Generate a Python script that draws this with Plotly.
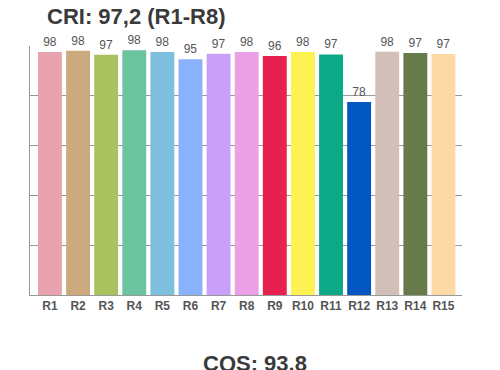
import plotly.graph_objects as go

categories = ["R1", "R2", "R3", "R4", "R5", "R6", "R7", "R8", "R9", "R10", "R11", "R12", "R13", "R14", "R15"]
values = [97.6, 98.1, 96.5, 98.3, 97.6, 94.7, 96.9, 97.6, 96.0, 97.6, 96.6, 77.5, 97.7, 97.2, 96.8]
labels = ["98", "98", "97", "98", "98", "95", "97", "98", "96", "98", "97", "78", "98", "97", "97"]
colors = ["#E8A3AF", "#CDAA7D", "#A9C15E", "#6CC3A0", "#7DBFDD", "#8AB1FB", "#C8A0F9", "#EBA0E6",
          "#E8204F", "#FDF251", "#0BA985", "#0257C2", "#D2BFB7", "#677A4A", "#FDD9A5"]
title_text = "CRI: 97,2 (R1-R8)"
footer_text = "CQS: 93.8"

# page body has an 8px margin, so the figure is laid out 8px smaller
W, H = 492, 362

fig = go.Figure(go.Bar(
    x=categories, y=values, text=labels, textposition="outside",
    textfont=dict(family="Arial", size=12, color="#555555"),
    marker=dict(color=colors, line=dict(width=0)),
    cliponaxis=False,
))

fig.update_layout(
    width=W, height=H,
    margin=dict(l=22, r=38, t=38, b=75),
    paper_bgcolor="white", plot_bgcolor="white",
    bargap=0.15,
    showlegend=False,
    font=dict(family="Arial"),
    title=dict(text=title_text, x=39/W, xanchor="left", y=1-8/H, yanchor="middle",
               font=dict(family="Arial", size=22, color="#3a3a3a", weight="bold")),
    annotations=[dict(text=footer_text, xref="paper", yref="paper", x=0.521, y=(287-355)/249,
                      xanchor="center", yanchor="middle", showarrow=False,
                      font=dict(family="Arial", size=22, color="#3a3a3a", weight="bold"))],
)
fig.update_xaxes(range=[-0.71, 14.66], showline=True, linecolor="#999999", linewidth=1,
                 showgrid=False, ticks="", tickfont=dict(family="Arial", size=12, color="#555555", weight="bold"))
fig.update_yaxes(range=[0, 100], dtick=20, showgrid=True, gridcolor="#999999", gridwidth=1,
                 showline=True, linecolor="#999999", linewidth=1, showticklabels=False, zeroline=False, ticks="")

fig.write_html("out.html")
